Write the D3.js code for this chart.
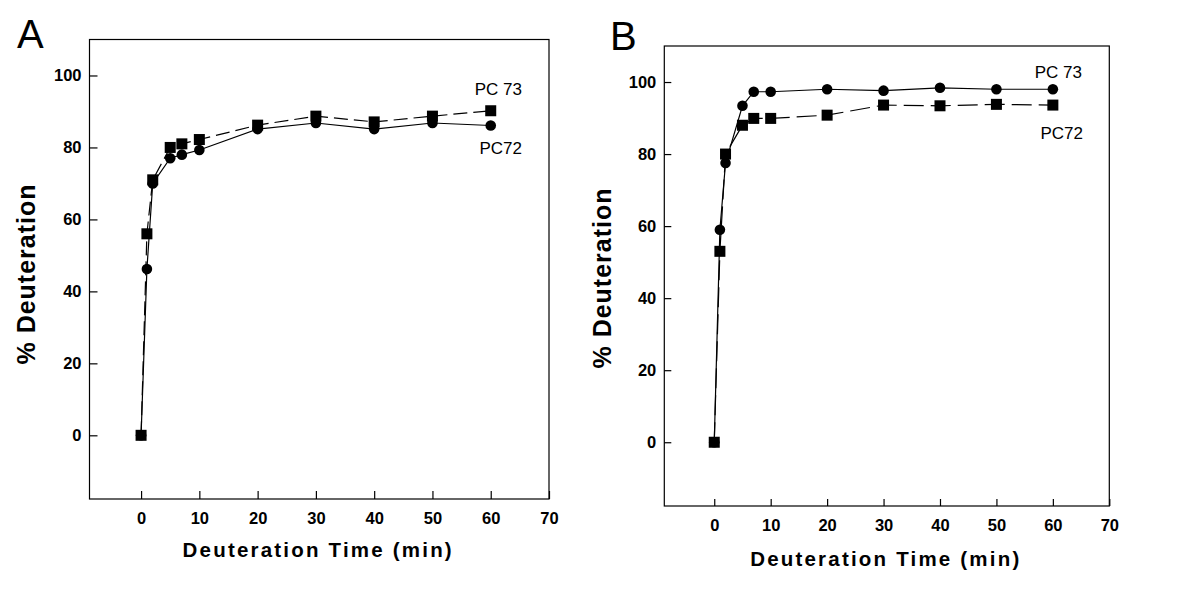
<!DOCTYPE html>
<html>
<head>
<meta charset="utf-8">
<script src="https://cdn.jsdelivr.net/npm/d3@7"></script>
<style>
  html, body { margin: 0; padding: 0; background: #fff; }
  svg { display: block; }
  text { font-family: "Liberation Sans", Arial, sans-serif; fill: #000; }
</style>
</head>
<body>
<svg id="chart" width="1200" height="595"></svg>
<script>
// ---- data ----
const timesA = [0, 1, 2, 5, 7, 10, 20, 30, 40, 50, 60];
const pc73A  = [0, 56, 71, 80, 81, 82.2, 86.2, 88.7, 87.1, 88.7, 90.2];   // squares, dashed
const pc72A  = [0, 46.2, 70, 77, 78, 79.3, 85.1, 86.8, 85.1, 86.8, 86.1]; // circles, solid

const timesB = [0, 1, 2, 5, 7, 10, 20, 30, 40, 50, 60];
const pc73B  = [0, 59, 77.5, 93.4, 97.3, 97.3, 98, 97.6, 98.4, 98, 98];    // circles, solid
const pc72B  = [0, 53, 80, 88, 89.9, 89.9, 90.8, 93.6, 93.4, 93.8, 93.6]; // squares, dashed

const xTicks = [0, 10, 20, 30, 40, 50, 60, 70];
const yTicks = [0, 20, 40, 60, 80, 100];
const xDomain = [-8.85, 70];
const yDomain = [-17.7, 110];

const svg = d3.select("#chart");

function panel(opts) {
  const g = svg.append("g");
  const x = d3.scaleLinear().domain(xDomain).range([opts.left, opts.right]);
  const y = d3.scaleLinear().domain(yDomain).range([opts.bottom, opts.top]);

  // frame
  g.append("rect")
    .attr("x", opts.left).attr("y", opts.top)
    .attr("width", opts.right - opts.left).attr("height", opts.bottom - opts.top)
    .attr("fill", "none").attr("stroke", "#000").attr("stroke-width", 1.2);

  const xa = g.append("g").attr("transform", `translate(0,${opts.bottom})`)
    .call(d3.axisBottom(x).tickValues(xTicks).tickSizeInner(-opts.tick).tickSizeOuter(0).tickPadding(13).tickFormat(d3.format("d")));
  const ya = g.append("g").attr("transform", `translate(${opts.left},0)`)
    .call(d3.axisLeft(y).tickValues(yTicks).tickSizeInner(-opts.tick).tickSizeOuter(0).tickPadding(8).tickFormat(d3.format("d")));
  [xa, ya].forEach(a => {
    a.select(".domain").remove();
    a.selectAll(".tick line").attr("stroke", "#000").attr("stroke-width", 1.2);
    a.selectAll(".tick text").attr("fill", "#000")
      .style("font-family", '"Liberation Sans", Arial, sans-serif')
      .style("font-size", "16.5px").style("font-weight", "bold");
  });

  const line = d3.line().x(d => x(d[0])).y(d => y(d[1]));

  opts.series.forEach(s => {
    const pts = opts.times.map((t, i) => [t, s.values[i]]);
    g.append("path").datum(pts)
      .attr("d", line).attr("fill", "none").attr("stroke", "#000")
      .attr("stroke-width", 1.2)
      .attr("stroke-dasharray", s.dashed ? opts.dash : null);
  });
  // circles first, squares on top
  opts.series.filter(s => s.marker === "circle").forEach(s => {
    g.selectAll(null).data(opts.times.map((t, i) => [t, s.values[i]])).enter()
      .append("circle").attr("cx", d => x(d[0])).attr("cy", d => y(d[1]))
      .attr("r", 5.3).attr("fill", "#000");
  });
  opts.series.filter(s => s.marker === "square").forEach(s => {
    g.selectAll(null).data(opts.times.map((t, i) => [t, s.values[i]])).enter()
      .append("rect").attr("x", d => x(d[0]) - 5.5).attr("y", d => y(d[1]) - 5.5)
      .attr("width", 11).attr("height", 11).attr("fill", "#000");
  });

  // series labels
  opts.labels.forEach(l => {
    g.append("text").attr("x", l.x).attr("y", l.y).attr("text-anchor", "end")
      .style("font-size", "17px").text(l.text);
  });

  // axis titles
  g.append("text")
    .attr("x", (opts.left + opts.right) / 2 - 1).attr("y", opts.xTitleY)
    .attr("text-anchor", "middle")
    .style("font-size", "20.5px").style("font-weight", "bold").style("letter-spacing", "2.2px")
    .text("Deuteration Time (min)");
  g.append("text")
    .attr("transform", `translate(${opts.yTitleX},${opts.yTitleYc}) rotate(-90)`)
    .attr("text-anchor", "middle")
    .style("font-size", "25px").style("font-weight", "bold").style("letter-spacing", "1px")
    .text("% Deuteration");

  // panel letter
  g.append("text").attr("x", opts.letterX).attr("y", opts.letterY)
    .style("font-size", "40px").text(opts.letter);
}

panel({
  left: 89.5, right: 549, top: 39.5, bottom: 499, tick: 8, dash: "14,6",
  times: timesA,
  series: [
    { values: pc73A, marker: "square", dashed: true },
    { values: pc72A, marker: "circle", dashed: false }
  ],
  labels: [ { text: "PC 73", x: 522, y: 95 }, { text: "PC72", x: 522, y: 154 } ],
  xTitleY: 557, yTitleX: 35, yTitleYc: 274,
  letter: "A", letterX: 17, letterY: 48
});

panel({
  left: 664.3, right: 1109.3, top: 46, bottom: 506, tick: 7, dash: "20,7",
  times: timesB,
  series: [
    { values: pc73B, marker: "circle", dashed: false },
    { values: pc72B, marker: "square", dashed: true }
  ],
  labels: [ { text: "PC 73", x: 1082, y: 78 }, { text: "PC72", x: 1083, y: 139 } ],
  xTitleY: 566, yTitleX: 611, yTitleYc: 278,
  letter: "B", letterX: 610, letterY: 50
});
</script>
</body>
</html>
